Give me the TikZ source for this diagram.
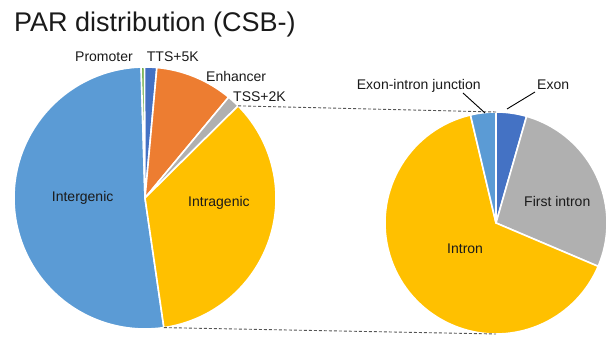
\documentclass[tikz,border=0pt]{standalone}
\usepackage{fontspec}
\setmainfont{Liberation Sans}
\definecolor{cLblue}{HTML}{5B9BD5}
\definecolor{cOrange}{HTML}{ED7D31}
\definecolor{cGray}{HTML}{B0B0B0}
\definecolor{cYellow}{HTML}{FFC000}
\definecolor{cDblue}{HTML}{4472C4}
\definecolor{cGreen}{HTML}{70AD47}
\definecolor{cText}{HTML}{1A1A1A}
\definecolor{cDash}{HTML}{555555}
\begin{document}
\begin{tikzpicture}[x=1pt,y=1pt,
  slice/.style={fill=#1,draw=white,line width=1.6pt,line join=round},
  lbl/.style={anchor=base west,inner sep=0pt,text=cText,font=\fontsize{14}{16}\selectfont},
  leader/.style={draw=black,line width=0.9pt},
  zoomline/.style={draw=cDash,line width=0.9pt,dash pattern=on 3pt off 2pt}]
\useasboundingbox (0,0) rectangle (614,339);
% left pie
\coordinate (L) at (145,141);
\def\LR{131}
\fill[slice=cLblue]  (L) -- ++(91.7:\LR) arc[start angle=91.7,end angle=278.3,radius=\LR] -- cycle;
\fill[slice=cGreen]  (L) -- ++(90.2:\LR) arc[start angle=90.2,end angle=91.7,radius=\LR] -- cycle;
\fill[slice=cDblue]  (L) -- ++(84.8:\LR) arc[start angle=84.8,end angle=90.2,radius=\LR] -- cycle;
\fill[slice=cOrange] (L) -- ++(50.3:\LR) arc[start angle=50.3,end angle=84.8,radius=\LR] -- cycle;
\fill[slice=cGray]   (L) -- ++(44.7:\LR) arc[start angle=44.7,end angle=50.3,radius=\LR] -- cycle;
\fill[slice=cYellow] (L) -- ++(-81.7:\LR) arc[start angle=-81.7,end angle=44.7,radius=\LR] -- cycle;
% right pie
\coordinate (R) at (496,116);
\def\RR{111}
\fill[slice=cDblue]  (R) -- ++(74:\RR) arc[start angle=74,end angle=90,radius=\RR] -- cycle;
\fill[slice=cGray]   (R) -- ++(-23:\RR) arc[start angle=-23,end angle=74,radius=\RR] -- cycle;
\fill[slice=cYellow] (R) -- ++(103.3:\RR) arc[start angle=103.3,end angle=337,radius=\RR] -- cycle;
\fill[slice=cLblue]  (R) -- ++(90:\RR) arc[start angle=90,end angle=103.3,radius=\RR] -- cycle;
% connector lines
\coordinate (Ltop) at ([shift={(44.7:\LR)}]L);
\coordinate (Lbot) at ([shift={(-81.7:\LR)}]L);
\coordinate (Rtop) at ([shift={(90:\RR)}]R);
\coordinate (Rbot) at ([shift={(-90:\RR)}]R);
\draw[zoomline] (Ltop) -- (Rtop);
\draw[zoomline] (Lbot) -- (Rbot);
% title
\node[anchor=base west,inner sep=0pt,text=cText,font=\fontsize{27}{31}\selectfont] (title) at (14,307.5) {PAR distribution (CSB-)};
% labels
\node[lbl] (promoter) at (75,277.3) {Promoter};
\node[lbl] (tts) at (146.7,277.3) {TTS+5K};
\node[lbl] (enh) at (206,257.3) {Enhancer};
\node[lbl] (tss) at (233,237.3) {TSS+2K};
\node[lbl] (inter) at (51.7,137.3) {Intergenic};
\node[lbl] (intra) at (188,132.3) {Intragenic};
\node[lbl] (junc) at (356.7,249.7) {Exon-intron junction};
\node[lbl] (exon) at (537,249.7) {Exon};
\node[lbl] (first) at (524,132) {First intron};
\node[lbl] (intron) at (447,85) {Intron};
% leader lines
\coordinate (j1) at (463,246);
\coordinate (j2) at (485,226);
\coordinate (e1) at (535,247);
\coordinate (e2) at (507,230);
\draw[leader] (j1) -- (j2);
\draw[leader] (e1) -- (e2);
\end{tikzpicture}
\end{document}
